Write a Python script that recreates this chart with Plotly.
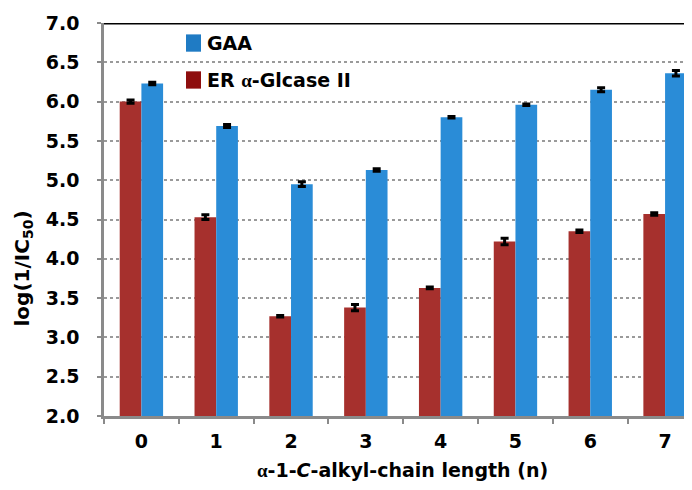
import plotly.graph_objects as go

categories = ["0", "1", "2", "3", "4", "5", "6", "7"]
er_values = [6.00, 4.53, 3.27, 3.38, 3.63, 4.22, 4.35, 4.57]
er_errors = [0.02, 0.03, 0.01, 0.04, 0.01, 0.04, 0.015, 0.015]
gaa_values = [6.23, 5.69, 4.95, 5.13, 5.80, 5.96, 6.15, 6.36]
gaa_errors = [0.015, 0.02, 0.03, 0.015, 0.01, 0.01, 0.025, 0.035]
y_ticks = [2.0, 2.5, 3.0, 3.5, 4.0, 4.5, 5.0, 5.5, 6.0, 6.5, 7.0]
legend_labels = ["GAA", "ER <span style='font-family:Liberation Serif'>α</span>-Glcase II"]

RED = "#A6302D"
BLUE = "#2A8CD7"
LEG_COLORS = ["#1F7BC4", "#8E0E0E"]
FONT = "DejaVu Sans"

fig = go.Figure()
fig.add_trace(go.Bar(
    x=categories, y=er_values, name="ER α-Glcase II",
    marker=dict(color=RED, line=dict(width=0)),
    error_y=dict(type="data", array=er_errors, color="black", thickness=3, width=4),
    showlegend=False,
))
fig.add_trace(go.Bar(
    x=categories, y=gaa_values, name="GAA",
    marker=dict(color=BLUE, line=dict(width=0)),
    error_y=dict(type="data", array=gaa_errors, color="black", thickness=3, width=4),
    showlegend=False,
))

# page body has an 8px default margin: compensate so the plot sits where the reference has it
fig.update_layout(
    width=684, height=482,
    margin=dict(l=96, r=0, t=15, b=74),
    paper_bgcolor="white", plot_bgcolor="white",
    barmode="group", bargap=0.42, bargroupgap=0,
    font=dict(family=FONT, color="black"),
    showlegend=False,
    xaxis=dict(
        type="category", range=[-0.5, 7.36],
        tickson="boundaries", ticks="outside", ticklen=5, tickwidth=2, tickcolor="#8a8a8a",
        showline=True, linecolor="#8a8a8a", linewidth=2.5,
        showgrid=False, zeroline=False,
        tickfont=dict(family=FONT, size=19, color="black", weight="bold"),
        ticklabelstandoff=6,
    ),
    yaxis=dict(
        range=[2, 7], tickvals=y_ticks, ticktext=[f"{v:.1f}" for v in y_ticks],
        ticks="outside", ticklen=4, tickwidth=2, tickcolor="#8a8a8a",
        showline=True, linecolor="#8a8a8a", linewidth=2.5,
        showgrid=True, gridcolor="#9a9a9a", gridwidth=2, griddash="dot",
        zeroline=False,
        tickfont=dict(family=FONT, size=19, color="black", weight="bold"),
        ticklabelstandoff=14,
    ),
)

# top border line
fig.add_shape(type="line", xref="paper", yref="y", x0=0, x1=1, y0=7, y1=7,
              line=dict(color="black", width=3))

# legend (drawn manually so square size and spacing match)
leg_y = [0.949, 0.855]
for lab, col, yc in zip(legend_labels, LEG_COLORS, leg_y):
    fig.add_shape(type="rect", xref="paper", yref="paper",
                  x0=0.1395, x1=0.165, y0=yc - 0.022, y1=yc + 0.022,
                  fillcolor=col, line=dict(width=0))
    fig.add_annotation(
        text=f"<b>{lab}</b>", xref="paper", yref="paper", x=0.172, y=yc,
        xanchor="left", yanchor="middle", showarrow=False,
        font=dict(family=FONT, size=19, color="black"),
    )

# axis titles
fig.add_annotation(
    text="<b><span style='font-family:Liberation Serif'>α</span>-1-<i>C</i>-alkyl-chain length (n)</b>",
    xref="paper", yref="paper", x=0.508, y=-0.137, xanchor="center", yanchor="middle",
    showarrow=False, font=dict(family=FONT, size=19, color="black"),
)
fig.add_annotation(
    text="<b>log(1/IC<sub>50</sub>)</b>",
    xref="paper", yref="paper", x=-0.138, y=0.375, xanchor="center", yanchor="middle",
    textangle=-90, showarrow=False, font=dict(family=FONT, size=20, color="black"),
)

fig.write_html("out.html")
